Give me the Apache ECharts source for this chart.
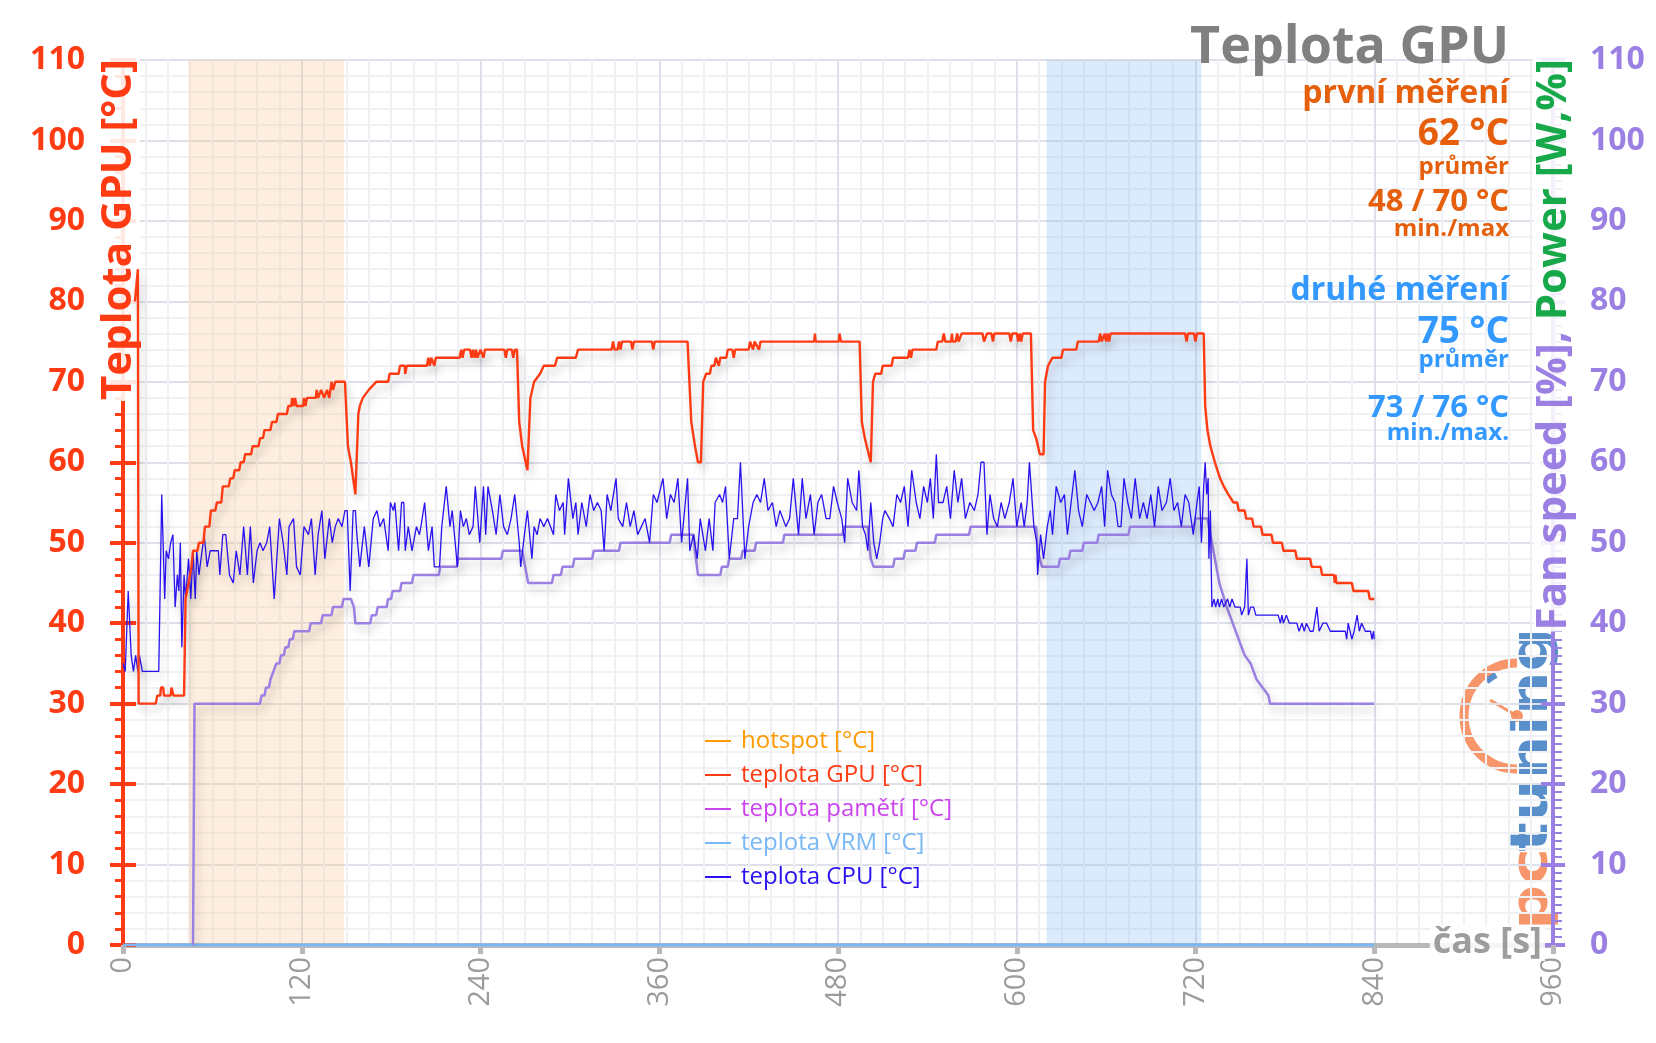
<!DOCTYPE html>
<html><head><meta charset="utf-8">
<script src="https://cdn.jsdelivr.net/npm/echarts@6/dist/echarts.min.js"></script>
<style>html,body{margin:0;padding:0;background:#fff}#c{width:1656px;height:1043px}</style>
</head><body><div id="c"></div><script>
// ---- data (time [s], value) ----
const seriesNames = ['hotspot [°C]', 'teplota GPU [°C]', 'teplota pamětí [°C]', 'teplota VRM [°C]', 'teplota CPU [°C]'];
const hotspotTemp = [];
const memTemp = [];
const vrmTemp = [[0,0],[840,0]];
const gpuTemp = [[8,80],[10,84],[10.5,30],[22,30],[23,31],[25,31],[25.5,32],[27,32],[27.5,31],[32,31],[32.5,32],[33.5,32],[34,31],[41,31],[42,43],[44,45],[45,46],[46,47],[47,49],[50,49],[51,50],[54,50],[55,52],[58,52],[59,54],[62,54],[63,55],[66,55],[67,57],[71,57],[72,58],[74,58],[75,59],[78,59],[79,60],[81,60],[82,61],[86,61],[87,62],[91,62],[92,63],[94,63],[95,64],[99,64],[100,65],[103,65],[104,66],[110,66],[111,67],[113,67],[113.5,68],[114.5,67],[115.5,68],[116.5,67],[121,67],[121.5,68],[122.5,67],[123.5,68],[129.5,68],[130,69],[131,68],[133,69],[135,68],[137,69],[138.5,68],[140,70],[141,69],[142.5,70],[149,70],[151,62],[153,60],[156,56],[158,66],[159,67],[161,68],[165,69],[170,70],[178,70],[179,71],[185,71],[186,72],[189,72],[189.5,71],[190.5,72],[204,72],[205,73],[206,72],[207,73],[209,72],[210,73],[226,73],[227,74],[228,73],[229,74],[233,74],[234,73],[235,74],[236,73],[237,74],[238,73],[240,74],[242,73],[243,74],[256,74],[257,73],[258,74],[261,74],[262,73],[263,74],[264.5,74],[266,65],[268,62],[271.5,59],[273.5,68],[276,70],[280,71],[282.5,72],[290,72],[291.5,73],[304,73],[305.5,74],[328,74],[329,75],[330,74],[332,74],[333,75],[334,74],[335,75],[341,75],[342,74],[343,75],[355,75],[356,74],[357,75],[379,75],[381.5,65],[384,62],[386,60],[388,60],[389.5,70],[391.5,71],[394,71],[395,72],[397,72],[398,73],[400,72],[401,73],[405,73],[406,74],[409,74],[410,73],[411,74],[420,74],[421,75],[423,74],[424,75],[427,74],[428,75],[464,75],[464.5,76],[465,75],[480.5,75],[481,76],[482,75],[494.5,75],[496,65],[498,63],[500,61.5],[502,60],[503.5,70],[505,71],[509,71],[510,72],[516,72],[517,73],[527,73],[528,74],[529,73],[530,74],[546,74],[547,75],[550,75],[551,76],[552,75],[556,75],[556.5,76],[557,75],[559,75],[560,76],[561,75],[563,76],[577,76],[578,75],[580,76],[583,76],[584,75],[585,76],[595,76],[596,75],[597,76],[600,76],[601,75],[602,76],[603,75],[604,76],[609.5,76],[611,64],[613,63],[615.5,61],[618,61],[619,70],[621,72],[624,73],[630,73],[631,74],[640,74],[641,75],[655,75],[656,76],[657,75],[659,76],[660,75],[661,76],[662,75],[663,76],[713,76],[714,75],[715,76],[719,76],[720,75],[721,76],[725.5,76],[726.5,67],[728,64],[730,62],[733,60],[736.5,58],[739,57],[742,56],[745.5,55],[748,55],[749,54],[753,54],[754,53],[758,53],[759,52],[764,52],[765,51],[771,51],[772,50],[778,50],[779,49],[787,49],[788,48],[797,48],[798,47],[804,47],[805,46],[813,46],[813.5,45],[814,46],[814.5,45],[825,45],[826,44],[836,44],[837,43],[840,43]];
const cpuTemp = [[0,35],[1.5,34],[3.5,44],[5.5,36],[7,34],[8.5,36],[10,34],[11,36],[13,34],[24,34],[26,56],[28,43],[29,49],[30.5,48],[32,50],[33.5,51],[35,42],[36.5,46],[37.5,44],[38.5,50],[39.5,37],[41,46],[42,43],[44,48],[45.5,43],[47,49],[48.5,43],[49.5,49],[51,46],[54.5,51],[56.5,47],[58.5,49],[64,49],[65,46],[67,51],[69,51],[71.5,46],[74,45],[76,49],[78.5,46],[81,52],[83.5,46],[85.5,52],[87.5,45],[90,49],[92,50],[94,49],[96.5,50],[98.5,52],[101.5,43],[105,53],[107.5,50],[110,46],[111.5,52],[114.5,53],[116.5,47],[119,46],[121.5,52],[124.5,51],[126.5,53],[129,46],[131,51],[133.5,54],[135.5,48],[138.5,53],[140.5,50],[142.5,52],[144.5,53],[147,52],[149,54],[150.5,54],[152.5,44],[154.5,54],[156,54],[157,51],[159,47],[162,52],[165,47],[166,47],[168,53],[170.5,54],[172.5,52],[175,53],[178,49],[179.5,55],[181.5,54],[182.5,55],[185,49],[187,55],[188.5,55],[189.5,49],[191.5,52],[194,49],[197,52],[199,51],[200,52],[202.5,55],[205,49],[207.5,52],[209,47],[212.5,47],[214,52],[217,57],[219.5,52],[221,54],[222.5,51],[224.5,47],[226.5,54],[228.5,52],[230.5,53],[232.5,51],[235,52],[236.5,57],[239.5,50],[242,57],[243.5,51],[245,57],[248,54],[250.5,51],[253,56],[255.5,52],[258,51],[260.5,53],[263,56],[266,50],[267,47],[269.5,51],[271.5,54],[274.5,48],[276,52],[278,51],[280,53],[282.5,52],[285,53],[289,51],[290.5,56],[293,54],[295.5,55],[296.5,51],[299,58],[302,53],[304,55],[305.5,51],[308,55],[311,52],[313.5,56],[316,54],[318.5,55],[321,54],[323,49],[325,56],[327.5,54],[331,58],[332.5,53],[335.5,52],[338,55],[340.5,52],[343,54],[345.5,51],[348,52],[350.5,53],[353.5,50],[356,56],[358.5,55],[362.5,58],[365,53],[367.5,56],[370,55],[372.5,58],[375,50],[379,58],[380.5,49],[383,51],[385.5,48],[387.5,53],[391,49],[393.5,53],[396,49],[397.5,55],[400.5,56],[402.5,55],[404.5,57],[407,48],[410,53],[412.5,53],[414.5,60],[417.5,48],[420,52],[423,55],[425.5,56],[428,55],[430.5,58],[433,54],[436,55],[438.5,52],[441,54],[445,52],[447.5,53],[450,58],[453.5,51],[456,58],[458.5,53],[461.5,56],[464,51],[466.5,55],[469,56],[472,53],[474.5,53],[477,57],[479.5,55],[482.5,53],[484.5,50],[486.5,58],[489.5,55],[492.5,54],[494,59],[496.5,52],[498.5,51],[500,49],[502,55],[504,50],[506,48],[508,50],[510,53],[511.5,54],[514.5,53],[517,52],[519.5,56],[522,55],[524.5,57],[527,52],[529.5,59],[532.5,55],[535,53],[537.5,57],[540,55],[542,58],[544,53],[546,61],[547.5,55],[550.5,55],[553,57],[555.5,53],[558,59],[560.5,55],[563,58],[565.5,53],[568.5,55],[571.5,54],[574,56],[576,60],[578,60],[580,51],[582,56],[584.5,53],[587,52],[589.5,55],[592,53],[595,55],[597.5,58],[600,52],[603,55],[605,52],[607,55],[608.5,60],[611.5,52],[613.5,50],[614,46],[616,51],[618,48],[620.5,52],[622.5,54],[624,51],[626.5,57],[629.5,55],[632,56],[634,51],[636.5,55],[639,59],[641.5,54],[644,52],[647,56],[649.5,55],[652,54],[654.5,55],[657,57],[659,52],[661,59],[663.5,56],[666,55],[668,52],[670,52],[672,58],[674.5,55],[677,53],[679.5,58],[682.5,53],[685,55],[687.5,53],[690,56],[692.5,52],[695,57],[697.5,54],[700.5,55],[703,58],[705.5,54],[708,55],[710.5,52],[713,56],[715.5,55],[718.5,51],[721,55],[722.5,57],[724,50],[725.5,57],[726.5,60],[727.5,56],[728.5,58],[729,48],[730,54],[731,42],[732.5,43],[733.5,42],[735,43],[736,42],[737.5,43],[739,42],[741.5,43],[743,42],[744.5,43],[746.5,42],[750,42],[751,41],[753,42],[754.5,48],[755.5,41],[757,42],[759,42],[760.5,41],[775.5,41],[777,40],[778,41],[779,40],[781,41],[783,40],[788,40],[789.5,39],[791.5,40],[793,39],[794.5,40],[797,39],[799,39],[801.5,42],[803,39],[805.5,40],[808,40],[810.5,39],[820.5,39],[821.5,38],[822.5,40],[825,38],[826.5,39],[828.5,41],[830,39],[831.5,40],[834,39],[837.5,39],[838.5,38],[839.5,39],[840,38]];
const fanSpeed = [[47,0],[48,30],[92,30],[93,31],[95,31],[96,32],[98,32],[99,33],[100,33],[101,34],[102,34],[103,35],[105,35],[106,36],[108,36],[109,37],[111,37],[112,38],[114,38],[115,39],[125,39],[126,40],[133,40],[134,41],[140,41],[141,42],[147,42],[148,43],[153,43],[155,42],[156,40],[166,40],[167,41],[170,41],[171,42],[177,42],[178,43],[180,43],[181,44],[186,44],[187,45],[194,45],[195,46],[212,46],[213,47],[224,47],[225,48],[254,48],[255,49],[268,49],[270,47],[272,45],[288,45],[289,46],[294,46],[295,47],[302,47],[303,48],[315,48],[316,49],[333,49],[334,50],[367,50],[368,51],[383,51],[384,49],[386,46],[401,46],[402,47],[406,47],[407,48],[415,48],[416,49],[424,49],[425,50],[443,50],[444,51],[483,51],[484,52],[500,52],[502,48],[504,47],[517,47],[518,48],[524,48],[525,49],[532,49],[533,50],[545,50],[546,51],[568,51],[569,52],[613,52],[614,49],[617,47],[628,47],[629,48],[635,48],[636,49],[644,49],[645,50],[654,50],[655,51],[675,51],[676,52],[719,52],[720,53],[728,53],[731,50],[734,47],[736,45],[741,42],[747,39],[753,36],[757,35],[761,33],[765,32],[769,31],[770,30],[840,30]];
const bandFirst = [44, 148.5];
const bandSecond = [620, 724];
const titleLines = [
  ['Teplota GPU', '#808080', 52, 48],
  ['první měření', '#e65f0c', 32, 94],
  ['62 °C', '#e65f0c', 37, 134],
  ['průměr', '#e65f0c', 24, 167],
  ['48 / 70 °C', '#e65f0c', 31, 202],
  ['min./max', '#e65f0c', 24, 229],
  ['druhé měření', '#3399ff', 32, 291],
  ['75 °C', '#3399ff', 37, 332],
  ['průměr', '#3399ff', 24, 360],
  ['73 / 76 °C', '#3399ff', 31, 408],
  ['min./max.', '#3399ff', 24, 433]
];

const F = '"Open Sans", Lato, sans-serif';
const RED = '#ff3b14', PURPLE = '#9b80e3';
const seriesColors = ['#ff9900', RED, '#cc44ee', '#7ab8f5', '#2a12f0'];
const shadow = {shadowColor:'rgba(0,0,0,0.22)', shadowBlur:8, shadowOffsetX:3, shadowOffsetY:6};

const chart = echarts.init(document.getElementById('c'), null, {renderer:'canvas'});
const yBase = {type:'value', min:0, max:110, interval:10};
const option = {
  animation:false,
  backgroundColor:'#fff',
  grid:{left:123, right:103, top:60, bottom:98, containLabel:false},
  legend:{
    orient:'vertical', left:705, top:729, padding:0, itemWidth:26, itemHeight:2, itemGap:10, icon:'rect',
    textStyle:{fontFamily:F, fontSize:24, lineHeight:24, padding:[0,0,0,5]},
    data: seriesNames.map((n,i)=>({name:n, textStyle:{color:seriesColors[i]}}))
  },
  xAxis:{
    type:'value', min:0, max:960, interval:120,
    axisLine:{lineStyle:{color:'#b8b8b8', width:5}},
    axisTick:{show:true, length:9, lineStyle:{color:'#b8b8b8', width:5}},
    axisLabel:{rotate:90, margin:12, color:'#9c9c9c', fontFamily:F, fontSize:29},
    splitLine:{show:true, lineStyle:{color:'#dde0e8', width:2}},
    minorTick:{show:false, splitNumber:8},
    minorSplitLine:{show:true, lineStyle:{color:'#eff1f5', width:2}}
  },
  yAxis:[
    Object.assign({}, yBase, {
      position:'left',
      axisLine:{show:true, lineStyle:{color:RED, width:4}},
      axisTick:{show:true, length:13, lineStyle:{color:RED, width:4}},
      minorTick:{show:true, splitNumber:5, length:8, lineStyle:{color:RED, width:3}},
      axisLabel:{margin:38, color:RED, fontFamily:F, fontWeight:'bold', fontSize:32},
      splitLine:{show:true, lineStyle:{color:'#dde0e8', width:2}},
      minorSplitLine:{show:true, lineStyle:{color:'#eff1f5', width:2}}
    }),
    Object.assign({}, yBase, {
      position:'right',
      axisLine:{show:true, lineStyle:{color:PURPLE, width:4}},
      axisTick:{show:true, length:12, lineStyle:{color:PURPLE, width:4}},
      minorTick:{show:true, splitNumber:10, length:9, lineStyle:{color:PURPLE, width:2}},
      axisLabel:{margin:37, color:PURPLE, fontFamily:F, fontWeight:'bold', fontSize:32},
      splitLine:{show:false}
    }),
    Object.assign({}, yBase, {
      position:'left', axisLine:{show:false}, axisLabel:{show:false}, splitLine:{show:false},
      axisTick:{show:true, inside:true, length:13, lineStyle:{color:RED, width:4}}
    }),
    Object.assign({}, yBase, {
      position:'right', axisLine:{show:false}, axisLabel:{show:false}, splitLine:{show:false},
      axisTick:{show:true, inside:true, length:12, lineStyle:{color:PURPLE, width:4}}
    })
  ],
  series:[
    {name:seriesNames[3], type:'line', data:vrmTemp, color:seriesColors[3], showSymbol:false,
     lineStyle:{width:3, color:seriesColors[3]},
     markArea:{silent:true, data:[
       [{xAxis:bandFirst[0], itemStyle:{color:'rgba(250,200,150,0.30)'}}, {xAxis:bandFirst[1]}],
       [{xAxis:bandSecond[0], itemStyle:{color:'rgba(140,190,245,0.30)'}}, {xAxis:bandSecond[1]}]
     ]}},
    {name:seriesNames[0], type:'line', data:hotspotTemp, color:seriesColors[0], showSymbol:false, lineStyle:{width:2}},
    {name:seriesNames[2], type:'line', data:memTemp, color:seriesColors[2], showSymbol:false, lineStyle:{width:2}},
    {name:'Fan speed [%]', type:'line', yAxisIndex:1, data:fanSpeed, color:PURPLE, showSymbol:false,
     lineStyle:Object.assign({width:2.5, color:PURPLE}, shadow)},
    {name:seriesNames[4], type:'line', data:cpuTemp, color:seriesColors[4], showSymbol:false,
     lineStyle:Object.assign({width:1.3, color:seriesColors[4]}, shadow)},
    {name:seriesNames[1], type:'line', data:gpuTemp, color:RED, showSymbol:false,
     lineStyle:Object.assign({width:2.4, color:RED}, shadow)}
  ],
  graphic:[]
};

const g = [];
titleLines.forEach(([t,c,s,y])=>{
  g.push({type:'text', x:1509, y:y, z:100, style:{text:t, fill:c, font:'bold '+s+'px '+F, textAlign:'right', textVerticalAlign:'middle'}});
});
// axis names
g.push({type:'text', x:119, y:58, rotation:Math.PI/2, z:1, style:{text:'Teplota GPU [°C]', fill:RED, font:'bold 42px '+F, textAlign:'right', textVerticalAlign:'middle', backgroundColor:'rgba(255,255,255,0.88)', padding:[0,1]}});
g.push({type:'text', x:1554, y:58, rotation:Math.PI/2, z:50, style:{
  text:'{a|Fan speed [%], }{b|Power [W,%]}', textAlign:'right', textVerticalAlign:'middle',
  backgroundColor:'rgba(255,255,255,0.88)', padding:[0,1],
  rich:{a:{fill:PURPLE, font:'bold 42px '+F}, b:{fill:'#17a84a', font:'bold 42px '+F}}}});
g.push({type:'text', x:1545, y:943, z:50, style:{text:'čas [s]', fill:'#9d9d9d', font:'bold 36px '+F, textAlign:'right', textVerticalAlign:'middle', backgroundColor:'rgba(255,255,255,0.85)', padding:[0,3]}});
// logo (watermark)
const LB = 'rgba(60,125,195,0.85)', LO = 'rgba(245,135,85,0.88)';
g.push({type:'group', z:40, children:[
  {type:'arc', shape:{cx:1517, cy:716, r:53, startAngle:Math.PI/2, endAngle:Math.PI*1.5, clockwise:true}, style:{stroke:LO, fill:null, lineWidth:9}},
  {type:'arc', shape:{cx:1517, cy:716, r:46, startAngle:Math.PI*1.27, endAngle:Math.PI*1.35, clockwise:true}, style:{stroke:LB, fill:null, lineWidth:6}},
  {type:'line', shape:{x1:1517, y1:716, x2:1490, y2:700}, style:{stroke:LO, lineWidth:3}},
  {type:'circle', shape:{cx:1517, cy:716, r:6}, style:{fill:LO}},
  {type:'text', x:1533, y:628, rotation:Math.PI/2, scaleX:1.17, style:{text:'tuning', textAlign:'right', textVerticalAlign:'middle',
    fill:LB, font:'bold 52px "DejaVu Sans"'}},
  {type:'text', x:1533, y:848, rotation:Math.PI/2, scaleX:1.2, style:{text:'pc', textAlign:'right', textVerticalAlign:'middle',
    fill:LO, font:'bold 52px "DejaVu Sans"'}}
]});
option.graphic = g;
chart.setOption(option);
</script></body></html>
